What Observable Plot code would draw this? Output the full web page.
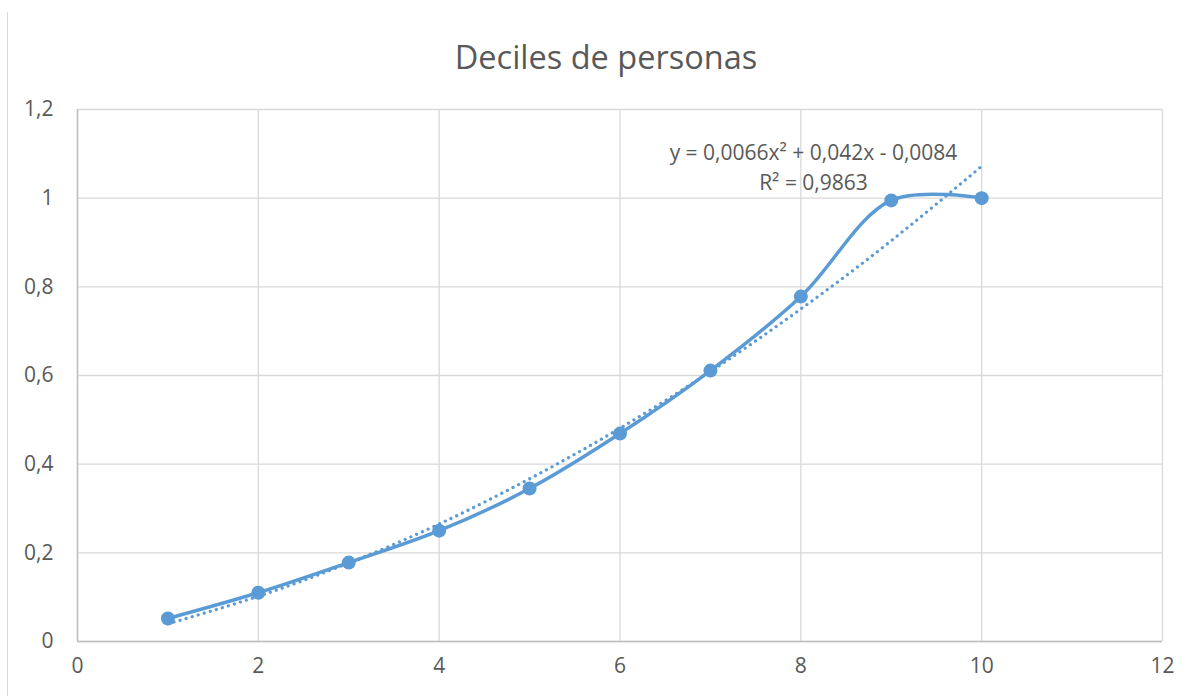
<!DOCTYPE html>
<html><head><meta charset="utf-8">
<script src="https://cdn.jsdelivr.net/npm/d3@7"></script>
<script src="https://cdn.jsdelivr.net/npm/@observablehq/plot@0.6"></script>
<style>
body{margin:0;background:#fff;font-family:"Open Sans",sans-serif;}
#wrap{position:relative;width:1198px;height:696px;overflow:hidden;}
#title{position:absolute;left:7px;width:1198px;top:34px;text-align:center;font-size:32.5px;line-height:46px;color:#595959;font-family:"Open Sans",sans-serif;}
#border{position:absolute;left:7px;top:12px;width:0;height:700px;border-left:1.5px solid #d9d9d9;}
#chart{position:absolute;left:0;top:0;}
#chart svg text{font-size:21px;}
</style></head>
<body>
<div id="wrap"><div id="border"></div><div id="chart"></div><div id="title">Deciles de personas</div></div>
<script>
const deciles = [1,2,3,4,5,6,7,8,9,10];
const shares  = [0.052,0.11,0.178,0.25,0.345,0.469,0.611,0.778,0.995,1.0];
const trendShares = [0.040,0.102,0.177,0.265,0.367,0.481,0.609,0.750,0.904,1.072];
const xTicks = [0,2,4,6,8,10,12];
const yTicks = [0,0.2,0.4,0.6,0.8,1,1.2];
const eqLines = ["y = 0,0066x² + 0,042x - 0,0084","R² = 0,9863"];
const eqX = [8.14,8.14];
const eqY = [1.101,1.033];

const pts = deciles.map((d,i)=>({x:d,y:shares[i]}));
const trend = deciles.map((d,i)=>({x:d,y:trendShares[i]}));
const eq = eqLines.map((t,i)=>({t,x:eqX[i],y:eqY[i]}));
const fmt = v => String(v).replace(".",",");
const blue = "#5b9bd5";

const chart = Plot.plot({
  width:1198, height:696,
  marginLeft:77, marginRight:36, marginTop:109, marginBottom:55,
  style:"font-family:'Open Sans',sans-serif;font-size:21px;color:#595959;background:transparent;overflow:visible;",
  x:{domain:[0,12], ticks:xTicks, tickFormat:fmt, tickSize:0, tickPadding:17, label:null},
  y:{domain:[0,1.2], ticks:yTicks, tickFormat:fmt, tickSize:0, tickPadding:24, label:null},
  marks:[
    Plot.gridX(xTicks,{stroke:"#d9d9d9", strokeOpacity:1, strokeWidth:1.3}),
    Plot.gridY(yTicks,{stroke:"#d9d9d9", strokeOpacity:1, strokeWidth:1.3}),
    Plot.ruleX([0],{stroke:"#bfbfbf", strokeWidth:1.5}),
    Plot.ruleY([0],{stroke:"#bfbfbf", strokeWidth:1.5}),
    Plot.line(trend,{x:"x",y:"y",stroke:blue,strokeWidth:3.2,strokeDasharray:"0.1,6.2",strokeLinecap:"round",curve:"natural"}),
    Plot.line(pts,{x:"x",y:"y",stroke:blue,strokeWidth:3.5,curve:"catmull-rom"}),
    Plot.dot(pts,{x:"x",y:"y",r:7,fill:blue,stroke:"none"}),
    Plot.text(eq,{x:"x",y:"y",text:"t",fill:"#595959",textAnchor:"middle"})
  ]
});
document.getElementById("chart").appendChild(chart);
</script>
</body></html>
